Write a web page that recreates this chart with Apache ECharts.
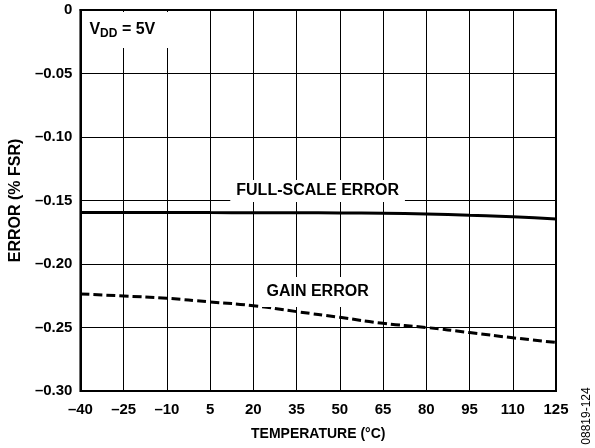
<!DOCTYPE html>
<html>
<head>
<meta charset="utf-8">
<script src="https://cdn.jsdelivr.net/npm/echarts@6/dist/echarts.min.js"></script>
<style>
  html, body { margin: 0; padding: 0; background: #fff; }
  #chart { width: 595px; height: 448px; }
</style>
</head>
<body>
<div id="chart"></div>
<script>
// Temperature steps (°C) along the x axis
const temperatures = ['-40', '-25', '-10', '5', '20', '35', '50', '65', '80', '95', '110', '125'];
const tempLabels = ['–40', '–25', '–10', '5', '20', '35', '50', '65', '80', '95', '110', '125'];

// Full-scale error, % FSR
const fullScaleError = [-0.1595, -0.1594, -0.1594, -0.1595, -0.1596, -0.1597, -0.1598, -0.1600, -0.1606, -0.1616, -0.1627, -0.1645];

// Gain error, % FSR
const gainError = [-0.2236, -0.2252, -0.2270, -0.2299, -0.2328, -0.2375, -0.2420, -0.2467, -0.2500, -0.2540, -0.2581, -0.2618];

// Y axis range
const yMin = -0.30, yMax = 0, yStep = 0.05;

const FONT = '"Liberation Sans", Arial, Helvetica, sans-serif';

const chart = echarts.init(document.getElementById('chart'), null, { renderer: 'canvas' });

const boxLabel = {
  show: true,
  color: '#000',
  fontFamily: FONT,
  fontWeight: 'bold',
  fontSize: 16,
  backgroundColor: '#fff',
  align: 'center',
  verticalAlign: 'middle'
};

chart.setOption({
  animation: false,
  backgroundColor: '#fff',
  grid: {
    left: 79, right: 39, top: 10, bottom: 57,
    show: true, borderColor: '#000', borderWidth: 2, backgroundColor: 'transparent'
  },
  xAxis: {
    type: 'category',
    data: temperatures,
    boundaryGap: false,
    name: 'TEMPERATURE (°C)',
    nameLocation: 'middle',
    nameGap: 36,
    nameTextStyle: { color: '#000', fontFamily: FONT, fontWeight: 'bold', fontSize: 14 },
    axisLine: { lineStyle: { color: '#000', width: 2 } },
    axisTick: { show: false },
    axisLabel: {
      interval: 0, margin: 11, color: '#000', fontFamily: FONT, fontWeight: 'bold', fontSize: 15,
      formatter: (v, i) => tempLabels[i]
    },
    splitLine: { show: true, interval: 0, lineStyle: { color: '#000', width: 1 } }
  },
  yAxis: {
    type: 'value',
    min: yMin, max: yMax, interval: yStep,
    name: 'ERROR (% FSR)',
    nameLocation: 'middle',
    nameGap: 56,
    nameTextStyle: { color: '#000', fontFamily: FONT, fontWeight: 'bold', fontSize: 16 },
    axisLine: { show: true, lineStyle: { color: '#000', width: 2 } },
    axisTick: { show: false },
    axisLabel: {
      margin: 8, color: '#000', fontFamily: FONT, fontWeight: 'bold', fontSize: 15,
      formatter: v => (Math.abs(v) < 1e-9 ? '0' : v.toFixed(2).replace('-', '–'))
    },
    splitLine: { show: true, lineStyle: { color: '#000', width: 1 } }
  },
  series: [
    {
      name: 'FULL-SCALE ERROR',
      type: 'line',
      data: fullScaleError,
      smooth: true,
      symbol: 'none',
      lineStyle: { color: '#000', width: 3 },
      z: 3,
      markPoint: {
        symbol: 'rect',
        symbolSize: 0,
        silent: true,
        data: [
          {
            coord: ['35', -0.1425],
            label: Object.assign({}, boxLabel, {
              formatter: 'FULL-SCALE ERROR', offset: [21, 0], padding: [3, 6, 3, 6]
            })
          },
          {
            coord: ['35', -0.2220],
            label: Object.assign({}, boxLabel, {
              formatter: 'GAIN ERROR', offset: [21, 0], padding: [7, 6, 7, 6]
            })
          },
          {
            coord: ['-40', 0],
            label: {
              show: true,
              position: [2, 2],
              align: 'left',
              verticalAlign: 'top',
              backgroundColor: '#fff',
              padding: [8, 24, 8, 7],
              formatter: '{v|V}{s|DD}{v| = 5V}',
              rich: {
                v: { color: '#000', fontFamily: FONT, fontWeight: 'bold', fontSize: 16 },
                s: { color: '#000', fontFamily: FONT, fontWeight: 'bold', fontSize: 12, padding: [8, 0, 0, 0] }
              }
            }
          }
        ]
      }
    },
    {
      name: 'GAIN ERROR',
      type: 'line',
      data: gainError,
      smooth: true,
      symbol: 'none',
      lineStyle: { color: '#000', width: 3, type: [9, 4] },
      z: 2
    }
  ],
  graphic: [
    {
      type: 'text',
      x: 587, y: 416,
      rotation: Math.PI / 2,
      style: { text: '08819-124', fontFamily: FONT, fontSize: 12, fill: '#000', align: 'center', verticalAlign: 'middle' }
    }
  ]
});
</script>
</body>
</html>
